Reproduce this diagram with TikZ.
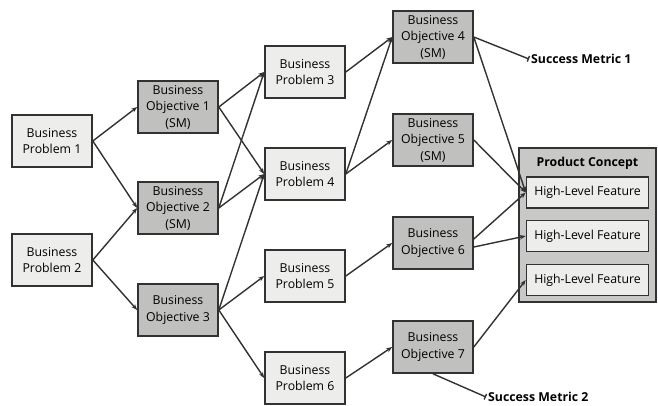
\documentclass[tikz,border=0pt]{standalone}
\usepackage{fontspec}
\setmainfont{Open Sans}
\usetikzlibrary{arrows.meta}
\definecolor{lightbox}{RGB}{237,237,235}
\definecolor{darkbox}{RGB}{192,192,190}
\definecolor{conceptbox}{RGB}{200,200,198}
\definecolor{edgeline}{RGB}{50,50,50}
\tikzset{
	problem/.style={draw=edgeline, line width=1.6bp, fill=lightbox, minimum width=80bp, minimum height=52bp, inner sep=0pt, align=center, font=\fontsize{12.3bp}{16.5bp}\selectfont},
	objective/.style={problem, fill=darkbox},
	feature/.style={draw=edgeline, line width=1.6bp, fill=lightbox, minimum width=122bp, minimum height=31bp, inner sep=0pt, font=\fontsize{12.3bp}{16.5bp}\selectfont},
	link/.style={draw=edgeline, line width=1.4bp, -{Stealth[length=6bp,width=4.5bp]}},
	metric/.style={font=\fontsize{12.3bp}{16.5bp}\selectfont\bfseries, anchor=west, inner sep=2bp}
}

\begin{document}
\begin{tikzpicture}[x=1bp, y=-1bp]
			%%%%% START %%%%%
			
			\fill[white] (0, 0) rectangle (658, 405);
			
			% first column
			\node[problem] (bp1) at (52, 141) {Business\\Problem 1};
			\node[problem] (bp2) at (52, 260) {Business\\Problem 2};
			
			% second column
			\node[objective] (bo1) at (178, 107) {Business\\Objective 1\\(SM)};
			\node[objective] (bo2) at (178, 208) {Business\\Objective 2\\(SM)};
			\node[objective] (bo3) at (178, 310) {Business\\Objective 3};
			
			% third column
			\node[problem] (bp3) at (305, 72) {Business\\Problem 3};
			\node[problem] (bp4) at (305, 174) {Business\\Problem 4};
			\node[problem] (bp5) at (305, 276) {Business\\Problem 5};
			\node[problem] (bp6) at (305, 378) {Business\\Problem 6};
			
			% fourth column
			\node[objective] (bo4) at (433, 37) {Business\\Objective 4\\(SM)};
			\node[objective] (bo5) at (433, 140) {Business\\Objective 5\\(SM)};
			\node[objective] (bo6) at (433, 243) {Business\\Objective 6};
			\node[objective] (bo7) at (433, 347) {Business\\Objective 7};
			
			% product concept
			\node[draw=edgeline, line width=1.6bp, fill=conceptbox, minimum width=137bp, minimum height=154bp, inner sep=0pt] (concept) at (587.5, 225) {};
			\node[font=\fontsize{12.3bp}{16.5bp}\selectfont\bfseries, inner sep=0pt] (title) at (587.5, 163) {Product Concept};
			\node[feature] (hlf1) at (587.5, 192.5) {High-Level Feature};
			\node[feature] (hlf2) at (587.5, 236) {High-Level Feature};
			\node[feature] (hlf3) at (587.5, 280) {High-Level Feature};
			
			% metrics
			\node[metric] (sm1) at (529, 59) {Success Metric 1};
			\node[metric] (sm2) at (486, 397) {Success Metric 2};
			
			\draw[link] (bp1.east) -- (bo1.west);
			\draw[link] (bp1.east) -- (bo2.west);
			\draw[link] (bp2.east) -- (bo2.west);
			\draw[link] (bp2.east) -- (bo3.west);
			
			\draw[link] (bo1.east) -- (bp3.west);
			\draw[link] (bo1.east) -- (bp4.west);
			\draw[link] (bo2.east) -- (bp3.west);
			\draw[link] (bo2.east) -- (bp4.west);
			\draw[link] (bo3.east) -- (bp4.west);
			\draw[link] (bo3.east) -- (bp5.west);
			\draw[link] (bo3.east) -- (bp6.west);
			
			\draw[link] (bp3.east) -- (bo4.west);
			\draw[link] (bp4.east) -- (bo4.west);
			\draw[link] (bp4.east) -- (bo5.west);
			\draw[link] (bp5.east) -- (bo6.west);
			\draw[link] (bp6.east) -- (bo7.west);
			
			\draw[link] (bo4.east) -- (hlf1.west);
			\draw[link] (bo5.east) -- (hlf1.west);
			\draw[link] ([yshift=4bp]bo6.east) -- (hlf1.west);
			\draw[link] ([yshift=-4bp]bo6.east) -- (hlf2.west);
			\draw[link] (bo7.east) -- (hlf3.west);
			
			\draw[draw=edgeline, line width=1.4bp, -{Bar[width=6bp]}] (bo4.east) -- (sm1.west);
			\draw[draw=edgeline, line width=1.4bp, -{Bar[width=6bp]}] (bo7.south) -- (sm2.west);
			
			%%%%% END %%%%%
\end{tikzpicture}
\end{document}
